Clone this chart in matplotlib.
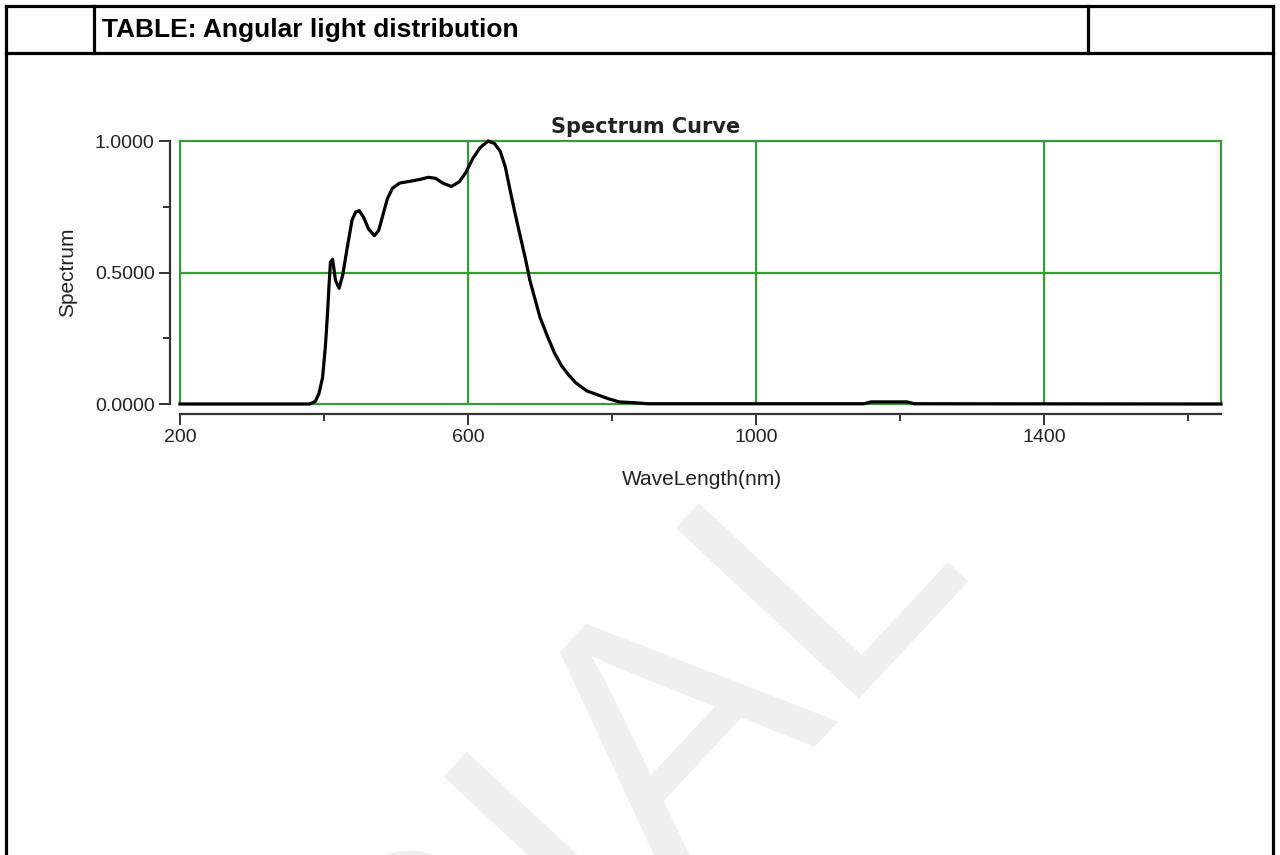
import matplotlib.pyplot as plt
from matplotlib.lines import Line2D
from matplotlib.ticker import MultipleLocator, FormatStrFormatter

# spectrum (wavelength in nm, relative value)
wavelength = [200, 380, 388, 393, 398, 402, 405, 407, 409, 412, 416, 421, 426, 432,
              439, 444, 449, 455, 462, 470, 476, 482, 488, 495, 505, 520, 535, 545,
              555, 565, 577, 588, 597, 607, 617, 628, 637, 645, 652, 658, 665, 672,
              680, 686, 693, 700, 710, 720, 730, 740, 750, 765, 780, 795, 810, 830,
              850, 1150, 1160, 1210, 1220, 1646]
spectrum = [0, 0, 0.01, 0.04, 0.10, 0.22, 0.35, 0.45, 0.54, 0.55, 0.47, 0.44, 0.49, 0.59,
            0.70, 0.73, 0.735, 0.71, 0.665, 0.64, 0.66, 0.72, 0.78, 0.82, 0.84, 0.847, 0.855, 0.862,
            0.858, 0.84, 0.827, 0.845, 0.88, 0.935, 0.975, 1.0, 0.99, 0.96, 0.90, 0.82, 0.73, 0.645,
            0.55, 0.47, 0.40, 0.33, 0.26, 0.195, 0.145, 0.11, 0.08, 0.05, 0.035, 0.02, 0.008, 0.005,
            0.001, 0.001, 0.008, 0.008, 0.001, 0]

x_major = [200, 600, 1000, 1400]
y_major = [0.0, 0.5, 1.0]
xlim = (200, 1646)
ylim = (0, 1)

W, H = 1280, 855
GREEN = '#3a9a3a'
AXIS = '#333333'

fig = plt.figure(figsize=(12.8, 8.55), dpi=100)


def fx(px):
    return px / W


def fy(py):
    return 1 - py / H


# watermark behind everything
fig.text(fx(975), fy(565), 'TRIAL', fontsize=262, color='#efefef',
         rotation=47, rotation_mode='anchor', ha='right', va='baseline',
         family='Liberation Sans', zorder=-5)

# table borders
lw_tab = 2.3
table_lines = [
    ((6, 1273), (6, 6)),       # top
    ((6, 1273), (53, 53)),     # header bottom
    ((6, 6), (6, 855)),        # left
    ((1273, 1273), (6, 855)),  # right
    ((94, 94), (6, 53)),
    ((1088, 1088), (6, 53)),
]
for xs, ys in table_lines:
    fig.add_artist(Line2D([fx(x) for x in xs], [fy(y) for y in ys],
                          color='black', lw=lw_tab, solid_capstyle='projecting'))

fig.text(fx(102), fy(30), 'TABLE: Angular light distribution', fontsize=19,
         fontweight='bold', family='Liberation Sans', va='center', ha='left')

# plot area: green frame and grid
rect = [fx(180), fy(404), fx(1221) - fx(180), fy(141) - fy(404)]
ax = fig.add_axes(rect)
ax.set_facecolor('none')
ax.plot(wavelength, spectrum, color='black', lw=2.3, zorder=5, clip_on=False)
ax.set_xlim(*xlim)
ax.set_ylim(*ylim)
for s in ax.spines.values():
    s.set_color(GREEN)
    s.set_linewidth(1.6)
for x in x_major[1:]:
    ax.axvline(x, color=GREEN, lw=1.6, zorder=1)
ax.axhline(0.5, color=GREEN, lw=1.6, zorder=1)
ax.set_xticks([])
ax.set_yticks([])

# separate offset axis lines with ticks
ax2 = fig.add_axes(rect)
ax2.set_facecolor('none')
ax2.set_xlim(*xlim)
ax2.set_ylim(*ylim)
ax2.spines['top'].set_visible(False)
ax2.spines['right'].set_visible(False)
ax2.spines['left'].set_position(('outward', 7.2))
ax2.spines['bottom'].set_position(('outward', 7.2))
for side in ['left', 'bottom']:
    ax2.spines[side].set_color(AXIS)
    ax2.spines[side].set_linewidth(1.6)
ax2.set_xticks(x_major)
ax2.xaxis.set_minor_locator(MultipleLocator(200))
ax2.set_yticks(y_major)
ax2.yaxis.set_minor_locator(MultipleLocator(0.25))
ax2.yaxis.set_major_formatter(FormatStrFormatter('%.4f'))
ax2.tick_params(which='major', length=8, width=1.4, color=AXIS, labelsize=14,
                labelcolor='#222222', pad=3)
ax2.tick_params(which='minor', length=5, width=1.4, color=AXIS)
for lab in ax2.get_xticklabels() + ax2.get_yticklabels():
    lab.set_family('Liberation Sans')

fig.text(fx(646), fy(127), 'Spectrum Curve', fontsize=15, fontweight='bold',
         family='DejaVu Sans', ha='center', va='center', color='#222222')
fig.text(fx(702), fy(479), 'WaveLength(nm)', fontsize=15, family='Liberation Sans',
         ha='center', va='center', color='#222222')
fig.text(fx(68), fy(272), 'Spectrum', fontsize=15, family='Liberation Sans',
         rotation=90, ha='center', va='center', color='#222222')

fig.savefig('out.png', dpi=100)
